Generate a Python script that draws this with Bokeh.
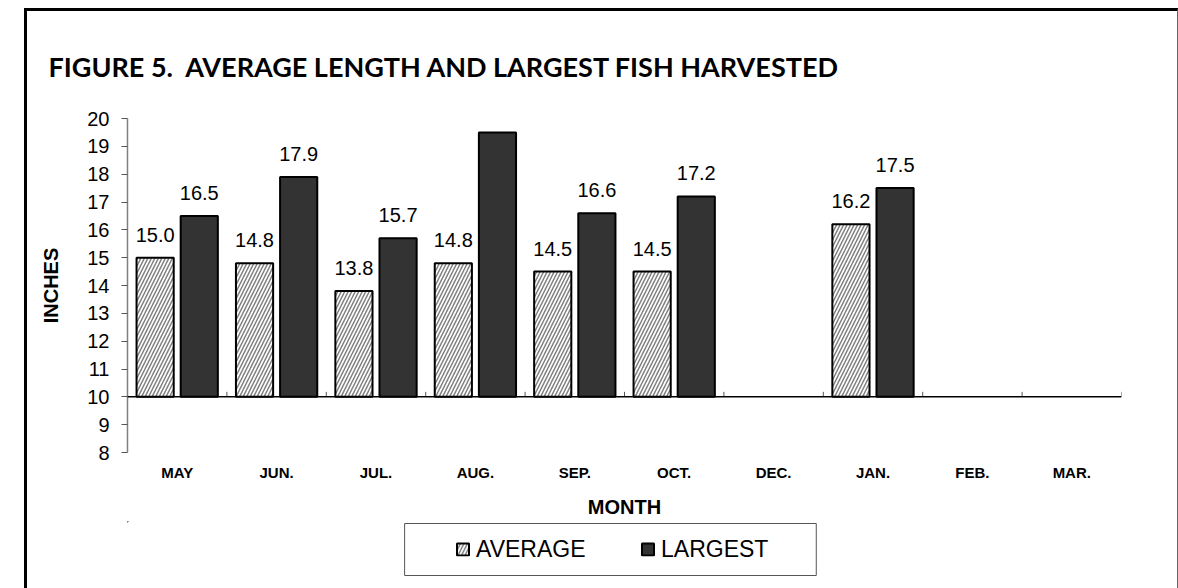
import math
from bokeh.plotting import figure
from bokeh.layouts import column
from bokeh.models import (ColumnDataSource, FactorRange, Range1d, SingleIntervalTicker,
                          LabelSet, Legend, LegendItem, Span, BoxAnnotation)
from bokeh.core.properties import value
from bokeh.transform import dodge
from bokeh.embed import file_html
from bokeh.resources import INLINE

# ---- data ----
months = ["MAY", "JUN.", "JUL.", "AUG.", "SEP.", "OCT.", "DEC.", "JAN.", "FEB.", "MAR."]
average = [15.0, 14.8, 13.8, 14.8, 14.5, 14.5, float("nan"), 16.2, float("nan"), float("nan")]
largest = [16.5, 17.9, 15.7, 19.5, 16.6, 17.2, float("nan"), 17.5, float("nan"), float("nan")]
series_names = ["AVERAGE", "LARGEST"]
title_text = "FIGURE 5.\u00a0 AVERAGE LENGTH AND LARGEST FISH HARVESTED"
base = 10

src = ColumnDataSource(dict(month=months, avg=average, lrg=largest))
avg_lbl = ColumnDataSource(dict(
    month=[m for m, v in zip(months, average) if not math.isnan(v)],
    val=[v for v in average if not math.isnan(v)],
    txt=["%.1f" % v for v in average if not math.isnan(v)]))
lrg_lbl = ColumnDataSource(dict(
    month=[m for m, v in zip(months, largest) if not math.isnan(v)],
    val=[v for v in largest if not math.isnan(v)],
    txt=["%.1f" % v for v in largest if not math.isnan(v)]))

avg_style = dict(fill_color="white", hatch_pattern="/", hatch_color="#808080",
                 hatch_scale=7, hatch_weight=1.5, line_color="black", line_width=2)
lrg_style = dict(fill_color="#333333", line_color="black", line_width=2)

W, H1, H2 = 1154, 513, 67
p = figure(width=W, height=H1, output_backend="svg", toolbar_location=None,
           x_range=FactorRange(factors=months), y_range=Range1d(8, 20),
           min_border_left=100, min_border_right=60, min_border_top=106, min_border_bottom=72,
           title=title_text)
p.styles = {"margin-left": "24px", "margin-top": "8px",
            "border-left": "3px solid black", "border-top": "3px solid black",
            "border-right": "1px solid #666666"}
p.title.text_font = "Lato"
p.title.text_font_style = "bold"
p.title.text_font_size = "27px"
p.title.text_color = "black"
p.title.align = "left"
p.title.offset = -79
p.title.standoff = 72
p.outline_line_color = None
p.xgrid.visible = False
p.ygrid.visible = False

off = 0.222
bw = 0.374
r_avg = p.vbar(x=dodge("month", -off, range=p.x_range), top="avg", bottom=base, width=bw,
               source=src, **avg_style)
r_lrg = p.vbar(x=dodge("month", off, range=p.x_range), top="lrg", bottom=base, width=bw,
               source=src, **lrg_style)

# baseline axis at 10 with boundary ticks pointing up
p.add_layout(Span(location=base, dimension="width", line_color="black", line_width=1.5))
p.ray(x=list(range(1, len(months) + 1)), y=[base] * len(months), length=5,
      length_units="screen", angle=math.pi / 2, line_color="#555555", line_width=1)

lbl_kw = dict(y="val", text="txt", y_offset=16, text_align="center",
              text_baseline="alphabetic", text_font=value("Liberation Sans"),
              text_font_size="20px", text_color="black")
p.add_layout(LabelSet(x=dodge("month", -off, range=p.x_range), source=avg_lbl, **lbl_kw))
p.add_layout(LabelSet(x=dodge("month", off, range=p.x_range), source=lrg_lbl, **lbl_kw))

# axes
ya = p.yaxis[0]
ya.ticker = SingleIntervalTicker(interval=1)
ya.axis_line_color = "#808080"
ya.axis_line_width = 1.5
ya.major_tick_line_color = "#555555"
ya.major_tick_out = 6
ya.major_tick_in = 0
ya.minor_tick_line_color = None
ya.major_label_standoff = 12
ya.major_label_text_font = "Liberation Sans"
ya.major_label_text_font_size = "20px"
ya.major_label_text_color = "black"
ya.axis_label = "INCHES"
ya.axis_label_text_font = "Liberation Sans"
ya.axis_label_text_font_style = "bold"
ya.axis_label_text_font_size = "20px"
ya.axis_label_text_color = "black"
ya.axis_label_standoff = 22

xa = p.xaxis[0]
xa.axis_line_color = None
xa.major_tick_line_color = None
xa.major_tick_out = 0
xa.major_tick_in = 0
xa.major_label_standoff = 11
xa.major_label_text_font = "Liberation Sans"
xa.major_label_text_font_style = "bold"
xa.major_label_text_font_size = "15px"
xa.major_label_text_color = "black"
xa.axis_label = "MONTH"
xa.axis_label_text_font = "Liberation Sans"
xa.axis_label_text_font_style = "bold"
xa.axis_label_text_font_size = "20px"
xa.axis_label_text_color = "black"
xa.axis_label_standoff = 12

# ---- legend strip (own figure, below the chart) ----
lg = figure(width=W, height=H2, output_backend="svg", toolbar_location=None,
            x_range=Range1d(100, 1090), y_range=Range1d(56, 0),
            min_border_left=100, min_border_right=60, min_border_top=0, min_border_bottom=11)
lg.styles = {"margin-left": "24px",
             "border-left": "3px solid black", "border-right": "1px solid #666666"}
lg.axis.visible = False
lg.xgrid.visible = False
lg.ygrid.visible = False
lg.outline_line_color = None
# legend-only renderers, placed far outside the visible strip
la = lg.vbar(x=[-5000], top=[-5000], bottom=[-5001], width=1, **avg_style)
ll = lg.vbar(x=[-5000], top=[-5000], bottom=[-5001], width=1, **lrg_style)
leg = Legend(items=[LegendItem(label=series_names[0], renderers=[la]),
                    LegendItem(label=series_names[1], renderers=[ll])],
             location="center", orientation="horizontal", spacing=32,
             glyph_width=15, glyph_height=15, label_standoff=6, label_width=132,
             label_height=26, label_text_color="black",
             label_text_font="Liberation Sans", label_text_font_size="23px",
             padding=0, margin=0, border_line_color=None, background_fill_alpha=0)
lg.add_layout(leg)
lg.add_layout(BoxAnnotation(left=376, right=786, top=2, bottom=54,
                            fill_alpha=0, line_color="#555555", line_width=1, line_alpha=1))

layout = column(p, lg)
open("out.html", "w").write(file_html(layout, INLINE))
